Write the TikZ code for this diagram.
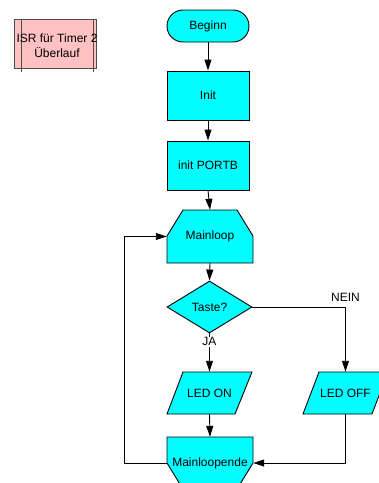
\documentclass[tikz,border=0pt]{standalone}
\usepackage{fontspec}
\setmainfont{Liberation Sans}
\usetikzlibrary{shapes.geometric, shapes.misc, arrows.meta}
\definecolor{ablauf}{RGB}{0,255,255}
\definecolor{isrrosa}{RGB}{255,193,193}

\begin{document}
\begin{tikzpicture}[x=1pt, y=-1pt, font=\fontsize{12}{15}\selectfont,
    linie/.style={line width=0.9pt, draw=black},
    pfeil/.style={linie, -{Triangle[length=11pt, width=7pt]}},
    block/.style={linie, fill=ablauf, minimum width=82pt, minimum height=49pt, inner sep=0pt},
    nurtext/.style={inner sep=0pt}]
    \useasboundingbox (0,0) rectangle (379,483);
    \clip (0,0) rectangle (379,483);

    % Unterprogramm (ISR)
    \filldraw[linie, fill=isrrosa, draw=black!70] (14,19) rectangle (96,68);
    \draw[linie, draw=black!70] (21,19) -- (21,72);
    \draw[linie, draw=black!70] (93,19) -- (93,72);
    \node[nurtext, align=center] (isr) at (57,45.5) {ISR für Timer 2\\Überlauf};

    % Start und Initialisierung
    \node[block, rounded rectangle, minimum height=32pt] (beginn) at (208,26) {Beginn};
    \node[block] (init) at (208,95.5) {Init};
    \node[block] (initport) at (208,165.5) {init PORTB};

    % Schleifenanfang
    \filldraw[linie, fill=ablauf] (183,210) -- (237,210) -- (253,236) -- (253,263) -- (167,263) -- (167,236) -- cycle;
    \node[nurtext, minimum width=86pt, minimum height=53pt] (mainloop) at (210,236.5) {Mainloop};

    % Abfrage
    \node[linie, diamond, fill=ablauf, minimum width=85pt, minimum height=52pt, inner sep=0pt] (taste) at (209.5,307) {Taste?};

    % Ausgaben
    \filldraw[linie, fill=ablauf] (183,372) -- (252,372) -- (235,414) -- (167,414) -- cycle;
    \node[nurtext, minimum width=85pt, minimum height=42pt] (ledon) at (209.5,393) {LED ON};
    \filldraw[linie, fill=ablauf] (319,372) -- (388,372) -- (372,414) -- (303,414) -- cycle;
    \node[nurtext, minimum width=85pt, minimum height=42pt] (ledoff) at (345.5,393) {LED OFF};

    % Schleifenende
    \filldraw[linie, fill=ablauf] (167,437) -- (253,437) -- (253,463) -- (237,489) -- (183,489) -- (167,463) -- cycle;
    \node[nurtext, minimum width=86pt, minimum height=52pt] (mlende) at (210,463) {Mainloopende};

    % Verbindungen
    \draw[pfeil] (beginn.south) -- (init.north);
    \draw[pfeil] (init.south) -- (initport.north);
    \draw[pfeil] (initport.south) -- (mainloop.north);
    \draw[pfeil] (mainloop.south) -- (taste.north);
    \draw[pfeil] (taste.south) -- node[pos=0.22, fill=white, inner sep=1pt] {JA} (ledon.north);
    \draw[pfeil] (taste.east) -| node[pos=0.5, above=2pt] {NEIN} (ledoff.north);
    \draw[pfeil] (ledon.south) -- (mlende.north);
    \draw[pfeil] (ledoff.south) |- (mlende.east);
    \coordinate (rueck) at (124,463);
    \draw[pfeil] (mlende.west) -- (rueck) |- (mainloop.west);
\end{tikzpicture}
\end{document}
